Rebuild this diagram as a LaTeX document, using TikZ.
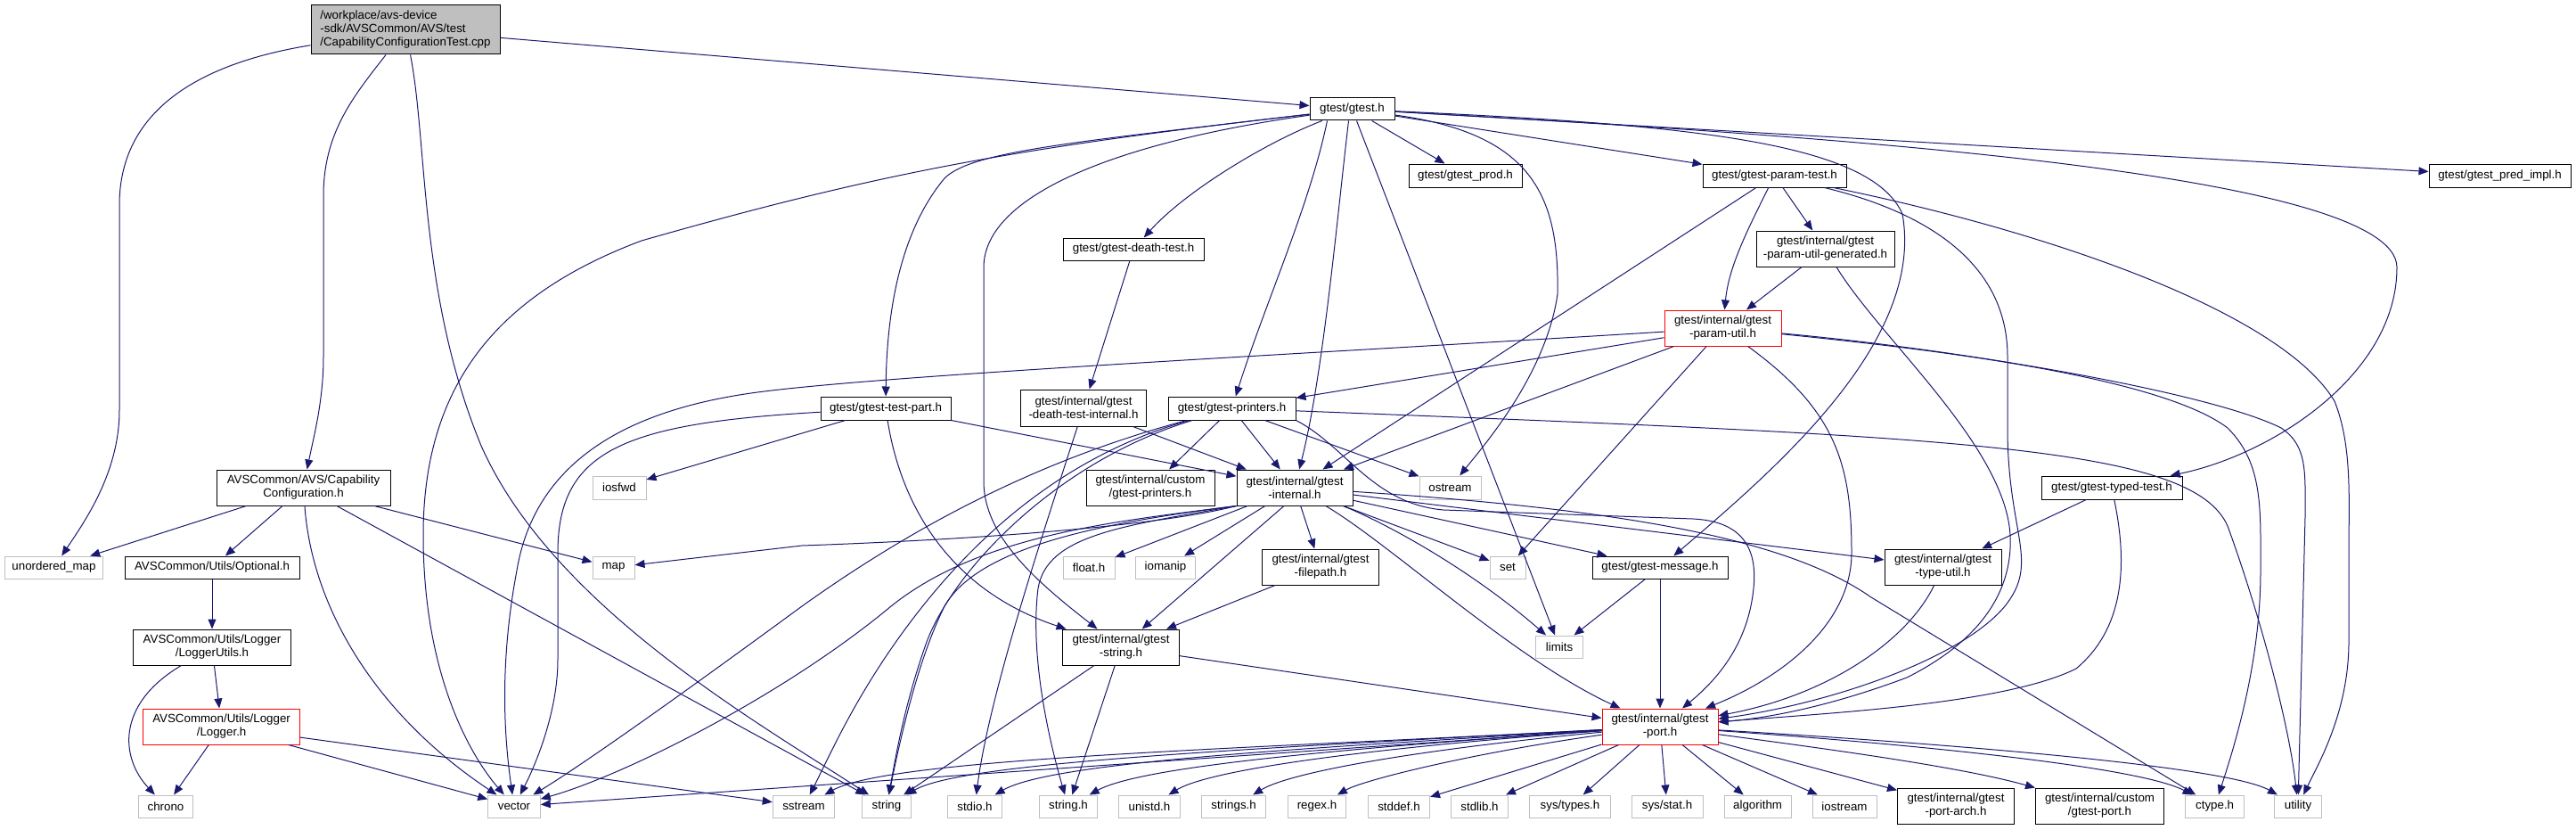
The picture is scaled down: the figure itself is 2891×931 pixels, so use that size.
\documentclass[tikz,border=0pt]{standalone}
\usepackage{fontspec}
\setmainfont{Liberation Sans}
\usetikzlibrary{arrows.meta}
\definecolor{edgeblue}{HTML}{191970}
\definecolor{sysgray}{HTML}{BFBFBF}
\definecolor{rootgray}{HTML}{BFBFBF}
\newcommand{\nodefont}{\fontsize{13.33}{15}\selectfont}
\newcommand{\mkbox}[7]{\node[#1, minimum width=#5pt, minimum height=#6pt] (#2) at (#3,#4) {#7};}
\tikzset{
  nb/.style={rectangle, draw=black, line width=1pt, inner sep=0pt, align=center, font=\nodefont, text=black},
  sysb/.style={nb, draw=sysgray},
  redb/.style={nb, draw=red},
  rootb/.style={nb, fill=rootgray, align=left},
  dep/.style={draw=edgeblue, line width=1pt, -{Triangle[length=11pt,width=9pt]}},
}
\begin{document}
\begin{tikzpicture}[x=1pt,y=-1pt]
\path[use as bounding box] (0,0) rectangle (2891,931);
% nodes
\mkbox{rootb}{root}{455}{33.5}{212}{55}{/workplace/avs-device\\-sdk/AVSCommon/AVS/test\\/CapabilityConfigurationTest.cpp}
\mkbox{nb}{gtesth}{1517.5}{122.5}{95}{25}{gtest/gtest.h}
\mkbox{nb}{prod}{1644.5}{197}{127}{26}{gtest/gtest\_prod.h}
\mkbox{nb}{paramtest}{1991.5}{197}{161}{26}{gtest/gtest-param-test.h}
\mkbox{nb}{predimpl}{2805.5}{197}{159}{26}{gtest/gtest\_pred\_impl.h}
\mkbox{nb}{paramgen}{2048.5}{279}{155}{40}{gtest/internal/gtest\\-param-util-generated.h}
\mkbox{nb}{deathtest}{1272}{279.5}{158}{25}{gtest/gtest-death-test.h}
\mkbox{redb}{paramutil}{1933.5}{368}{131}{40}{gtest/internal/gtest\\-param-util.h}
\mkbox{nb}{testpart}{994}{458}{146}{26}{gtest/gtest-test-part.h}
\mkbox{nb}{dti}{1216}{457.5}{141}{41}{gtest/internal/gtest\\-death-test-internal.h}
\mkbox{nb}{printers}{1382.5}{458}{143}{26}{gtest/gtest-printers.h}
\mkbox{nb}{capconf}{340.5}{547}{195}{40}{AVSCommon/AVS/Capability\\Configuration.h}
\mkbox{sysb}{iosfwd}{695}{547}{60}{26}{iosfwd}
\mkbox{nb}{custprinters}{1291}{547}{144}{40}{gtest/internal/custom\\/gtest-printers.h}
\mkbox{nb}{internal}{1453}{547}{130}{40}{gtest/internal/gtest\\-internal.h}
\mkbox{sysb}{ostream}{1627.5}{547}{69}{26}{ostream}
\mkbox{nb}{typedtest}{2370}{547}{158}{26}{gtest/gtest-typed-test.h}
\mkbox{sysb}{umap}{60.5}{636.5}{110}{25}{unordered\_map}
\mkbox{nb}{optional}{238}{636.5}{196}{25}{AVSCommon/Utils/Optional.h}
\mkbox{sysb}{map}{688.5}{636.5}{47}{25}{map}
\mkbox{sysb}{floath}{1222}{636.5}{58}{25}{float.h}
\mkbox{sysb}{iomanip}{1308}{636.5}{67}{25}{iomanip}
\mkbox{nb}{filepath}{1482}{636}{131}{40}{gtest/internal/gtest\\-filepath.h}
\mkbox{sysb}{set}{1692}{636.5}{40}{25}{set}
\mkbox{nb}{message}{1863}{636.5}{152}{25}{gtest/gtest-message.h}
\mkbox{nb}{typeutil}{2180.5}{636}{131}{40}{gtest/internal/gtest\\-type-util.h}
\mkbox{nb}{loggerutils}{238}{726}{177}{40}{AVSCommon/Utils/Logger\\/LoggerUtils.h}
\mkbox{nb}{gstring}{1258}{726}{131}{40}{gtest/internal/gtest\\-string.h}
\mkbox{sysb}{limits}{1750}{725.5}{53}{25}{limits}
\mkbox{redb}{logger}{248.6}{815}{176}{40}{AVSCommon/Utils/Logger\\/Logger.h}
\mkbox{redb}{port}{1863}{815}{130}{40}{gtest/internal/gtest\\-port.h}
\mkbox{sysb}{chrono}{186}{904.5}{61}{25}{chrono}
\mkbox{sysb}{vector}{577}{904.5}{58.5}{25}{vector}
\mkbox{sysb}{sstream}{902}{904.5}{69.5}{25}{sstream}
\mkbox{sysb}{string}{995}{904.5}{55}{25}{string}
\mkbox{sysb}{stdio}{1094}{904.5}{61.6}{25}{stdio.h}
\mkbox{sysb}{stringh}{1199}{904.5}{65.5}{25}{string.h}
\mkbox{sysb}{unistd}{1290}{904.5}{69}{25}{unistd.h}
\mkbox{sysb}{stringsh}{1384.6}{904.5}{72}{25}{strings.h}
\mkbox{sysb}{regex}{1478}{904.5}{64.7}{25}{regex.h}
\mkbox{sysb}{stddef}{1570}{904.5}{69}{25}{stddef.h}
\mkbox{sysb}{stdlib}{1660.5}{904.5}{64}{25}{stdlib.h}
\mkbox{sysb}{systypes}{1762}{904.5}{90.4}{25}{sys/types.h}
\mkbox{sysb}{sysstat}{1871}{904.5}{80}{25}{sys/stat.h}
\mkbox{sysb}{algorithm}{1972.6}{904.5}{75}{25}{algorithm}
\mkbox{sysb}{iostream}{2070}{904.5}{72}{25}{iostream}
\mkbox{nb}{portarch}{2195}{904}{131}{40}{gtest/internal/gtest\\-port-arch.h}
\mkbox{nb}{custport}{2356.5}{904}{144}{40}{gtest/internal/custom\\/gtest-port.h}
\mkbox{sysb}{ctype}{2485.6}{904.5}{65.7}{25}{ctype.h}
\mkbox{sysb}{utility}{2579}{904.5}{53.5}{25}{utility}
% root
\draw[dep] (root) .. controls (230,70) and (134,120) .. (134,230) -- (134,460) .. controls (134,530) and (95,585) .. (umap);
\draw[dep] (root) .. controls (395,110) and (363,150) .. (363,220) -- (363,400) .. controls (363,450) and (352,490) .. (capconf);
\draw[dep] (root) .. controls (480,160) and (470,330) .. (540,500) .. controls (620,680) and (850,810) .. (string);
\draw[dep] (root) -- (gtesth);
% capability configuration
\draw[dep] (capconf) -- (umap);
\draw[dep] (capconf) -- (optional);
\draw[dep] (capconf) .. controls (350,680) and (420,800) .. (vector);
\draw[dep] (capconf) -- (string);
\draw[dep] (capconf) -- (map);
\draw[dep] (optional) -- (loggerutils);
\draw[dep] (loggerutils) .. controls (130,790) and (135,850) .. (chrono);
\draw[dep] (loggerutils) -- (logger);
\draw[dep] (logger) -- (chrono);
\draw[dep] (logger) -- (vector);
\draw[dep] (logger) -- (sstream);
% gtest.h
\draw[dep] (gtesth) .. controls (1150,165) and (1000,190) .. (720,270) .. controls (560,330) and (475,430) .. (475,600) .. controls (475,760) and (530,850) .. (vector);
\draw[dep] (gtesth) .. controls (1200,160) and (1090,170) .. (1060,200) .. controls (1010,260) and (995,350) .. (testpart);
\draw[dep] (gtesth) .. controls (1250,160) and (1104,220) .. (1104,300) -- (1104,540) .. controls (1104,600) and (1160,650) .. (gstring);
\draw[dep] (gtesth) .. controls (1420,160) and (1330,215) .. (deathtest);
\draw[dep] ([xshift=-28pt]gtesth.south) .. controls (1470,230) and (1420,340) .. (printers);
\draw[dep] ([xshift=-4pt]gtesth.south) .. controls (1500,250) and (1485,420) .. (internal);
\draw[dep] (gtesth) -- (limits);
\draw[dep] (gtesth) .. controls (1720,150) and (1750,220) .. (1748,330) .. controls (1735,420) and (1665,500) .. (ostream);
\draw[dep] (gtesth) -- (prod);
\draw[dep] (gtesth) -- (paramtest);
\draw[dep] (gtesth) .. controls (1900,140) and (2100,160) .. (2135,240) .. controls (2160,380) and (2000,520) .. (message);
\draw[dep] (gtesth) .. controls (2000,150) and (2690,190) .. (2690,300) .. controls (2690,420) and (2550,510) .. (typedtest);
\draw[dep] (gtesth) -- (predimpl);
% test part
\draw[dep] (testpart) -- (iosfwd);
\draw[dep] (testpart) .. controls (700,475) and (626,505) .. (626,620) -- (626,740) .. controls (626,800) and (600,860) .. (vector);
\draw[dep] (testpart.south east) -- (internal);
\draw[dep] (testpart) .. controls (1010,560) and (1060,660) .. (gstring);
% death test
\draw[dep] (deathtest) -- (dti);
\draw[dep] (dti) -- (internal);
\draw[dep] (dti) .. controls (1170,600) and (1110,780) .. (stdio);
% printers
\draw[dep] (printers) -- (ostream);
\draw[dep] (printers) .. controls (2200,490) and (2460,500) .. (2500,590) .. controls (2540,700) and (2570,820) .. (utility);
\draw[dep] (printers.south east) .. controls (1510,500) and (1540,565) .. (1620,572) -- (1900,582) .. controls (1960,585) and (1972,620) .. (1968,660) .. controls (1962,720) and (1930,760) .. (port);
\draw[dep] (printers) -- (custprinters);
\draw[dep] (printers) -- (internal);
\draw[dep] (printers) .. controls (1180,515) and (1080,620) .. (1020,700) .. controls (960,780) and (930,850) .. (sstream);
\draw[dep] (printers) .. controls (1185,518) and (1070,640) .. (1040,720) .. controls (1015,790) and (1005,850) .. (string);
\draw[dep] (printers) .. controls (1180,512) and (1040,580) .. (900,680) .. controls (750,790) and (650,860) .. (vector);
% param test
\draw[dep] (paramtest) -- (internal);
\draw[dep] (paramtest) .. controls (1960,260) and (1940,300) .. (paramutil);
\draw[dep] (paramtest) -- (paramgen);
\draw[dep] (paramtest) .. controls (2170,240) and (2253,300) .. (2253,400) -- (2253,480) .. controls (2253,600) and (2290,630) .. (2250,680) .. controls (2200,740) and (2050,790) .. (port);
\draw[dep] (paramtest) .. controls (2300,260) and (2560,350) .. (2620,450) .. controls (2640,500) and (2636,560) .. (2636,620) -- (2636,720) .. controls (2636,800) and (2600,860) .. (utility);
\draw[dep] (paramgen) -- (paramutil);
\draw[dep] (paramgen) .. controls (2110,380) and (2250,500) .. (2256,600) .. controls (2260,680) and (2200,730) .. (2140,760) .. controls (2060,790) and (1990,805) .. (port);
% param util
\draw[dep] (paramutil) .. controls (1500,395) and (1000,420) .. (850,440) .. controls (700,460) and (600,520) .. (580,640) .. controls (565,720) and (562,800) .. (vector);
\draw[dep] (paramutil) -- (printers);
\draw[dep] (paramutil) -- (internal);
\draw[dep] (paramutil) -- (set);
\draw[dep] (paramutil) .. controls (2060,460) and (2078,520) .. (2078,620) .. controls (2078,700) and (2000,760) .. (port);
\draw[dep] (paramutil) .. controls (2150,390) and (2420,420) .. (2500,480) .. controls (2540,520) and (2537,570) .. (2537,640) .. controls (2537,740) and (2510,830) .. (ctype);
\draw[dep] (paramutil) .. controls (2200,392) and (2480,440) .. (2560,480) .. controls (2590,500) and (2587,530) .. (2587,580) -- (utility);
% typed test
\draw[dep] (typedtest) -- (typeutil);
\draw[dep] (typedtest) .. controls (2385,620) and (2390,700) .. (2330,750) .. controls (2250,790) and (2050,800) .. (port);
\draw[dep] (typeutil) .. controls (2140,720) and (2050,780) .. (port);
% internal
\draw[dep] (internal) -- (filepath);
\draw[dep] (internal) -- (iomanip);
\draw[dep] (internal) -- (floath);
\draw[dep] ([xshift=-12pt]internal.south) -- (gstring);
\draw[dep] (internal) -- (set);
\draw[dep] (internal) -- (message);
\draw[dep] (internal) -- (typeutil);
\draw[dep] (internal) .. controls (1540,580) and (1640,630) .. (limits);
\draw[dep] (internal) .. controls (1560,610) and (1700,740) .. (port);
\draw[dep] (internal.south west) .. controls (1300,590) and (1100,605) .. (900,612) -- (map);
\draw[dep] (internal.south west) .. controls (1260,590) and (1175,600) .. (1165,660) .. controls (1155,740) and (1180,840) .. (stringh);
\draw[dep] (internal.south west) .. controls (1250,585) and (1100,600) .. (1000,680) .. controls (880,780) and (700,870) .. (vector);
\draw[dep] (internal.south west) .. controls (1250,585) and (1100,610) .. (1060,680) .. controls (1030,740) and (1010,830) .. (string);
\draw[dep] (internal) .. controls (1800,570) and (2000,600) .. (2100,670) -- (ctype);
% small headers
\draw[dep] (filepath) -- (gstring);
\draw[dep] (message) -- (limits);
\draw[dep] (message) -- (port);
\draw[dep] (gstring) -- (port);
\draw[dep] (gstring) -- (string);
\draw[dep] (gstring) -- (stringh);
% port
\draw[dep] (port) -- (vector);
\draw[dep] (port) .. controls (1400,840) and (1000,850) .. (sstream);
\draw[dep] (port) .. controls (1400,840) and (1080,855) .. (string);
\draw[dep] (port) .. controls (1450,840) and (1180,855) .. (stdio);
\draw[dep] (port) .. controls (1500,840) and (1280,860) .. (stringh);
\draw[dep] (port) .. controls (1550,838) and (1360,862) .. (unistd);
\draw[dep] (port) .. controls (1600,840) and (1450,865) .. (stringsh);
\draw[dep] (port) .. controls (1650,845) and (1530,875) .. (regex);
\draw[dep] (port) -- (stddef);
\draw[dep] (port) -- (stdlib);
\draw[dep] (port) -- (systypes);
\draw[dep] (port) -- (sysstat);
\draw[dep] (port) -- (algorithm);
\draw[dep] (port) -- (iostream);
\draw[dep] (port) -- (portarch);
\draw[dep] (port) .. controls (2050,840) and (2200,860) .. (custport);
\draw[dep] (port) .. controls (2150,835) and (2400,860) .. (ctype);
\draw[dep] (port) .. controls (2200,835) and (2500,860) .. (utility);
\end{tikzpicture}
\end{document}
